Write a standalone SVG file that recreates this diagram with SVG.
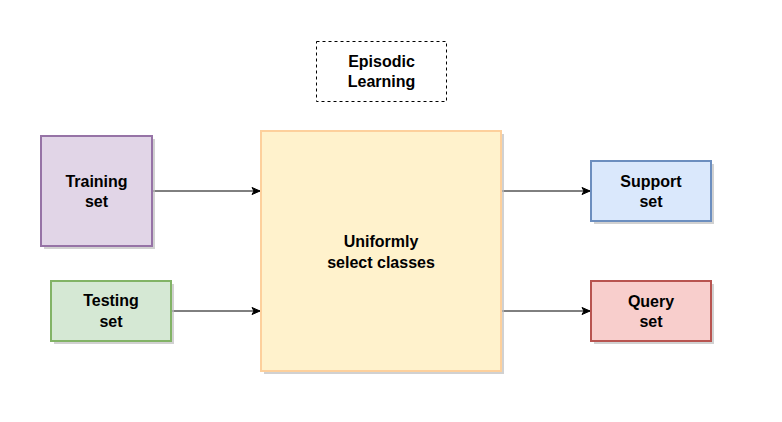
<svg xmlns="http://www.w3.org/2000/svg" width="782" height="422" viewBox="0 0 782 422">
<defs>
<style>
.t{font-family:"Liberation Sans",Arial,sans-serif;font-size:16px;font-weight:bold;fill:#000;text-anchor:middle}
.sh{fill:#bdbdbd;opacity:0.7}
.e{stroke:#000;stroke-width:1;fill:none}
</style>
<marker id="ah" markerWidth="10" markerHeight="10" refX="9" refY="5" orient="auto" markerUnits="userSpaceOnUse">
<path d="M1,1.5 L9,5 L1,8.5 L3,5 Z" fill="#000" stroke="#000" stroke-width="1"/>
</marker>
</defs>
<rect width="782" height="422" fill="#fff"/>
<g id="connectors">
<line class="e" x1="152" y1="191" x2="260" y2="191" marker-end="url(#ah)"/>
<line class="e" x1="171" y1="311" x2="260" y2="311" marker-end="url(#ah)"/>
<line class="e" x1="501" y1="191" x2="590" y2="191" marker-end="url(#ah)"/>
<line class="e" x1="501" y1="311" x2="590" y2="311" marker-end="url(#ah)"/>
</g>
<g id="episodic">
<rect x="316.5" y="41.5" width="130" height="60" fill="#fff" stroke="#000" stroke-dasharray="3,3"/>
<text class="t" x="381.5" y="67">Episodic</text>
<text class="t" x="381.5" y="87">Learning</text>
</g>
<g id="training">
<rect class="sh" x="44" y="139" width="111" height="110"/>
<rect x="41" y="136" width="111" height="110" fill="#e1d5e7" stroke="#9673a6" stroke-width="2"/>
<text class="t" x="96.5" y="187">Training</text>
<text class="t" x="96.5" y="207">set</text>
</g>
<g id="testing">
<rect class="sh" x="54" y="284" width="120" height="60"/>
<rect x="51" y="281" width="120" height="60" fill="#d5e8d4" stroke="#82b366" stroke-width="2"/>
<text class="t" x="111" y="306">Testing</text>
<text class="t" x="111" y="327">set</text>
</g>
<g id="uniform">
<rect class="sh" x="264" y="134" width="240" height="240"/>
<rect x="261" y="131" width="240" height="240" fill="#fff2cc" stroke="#fdd09c" stroke-width="2"/>
<text class="t" x="381" y="247">Uniformly</text>
<text class="t" x="381" y="268">select classes</text>
</g>
<g id="support">
<rect class="sh" x="594" y="164" width="120" height="60"/>
<rect x="591" y="161" width="120" height="60" fill="#dae8fc" stroke="#6c8ebf" stroke-width="2"/>
<text class="t" x="651" y="187">Support</text>
<text class="t" x="651" y="207">set</text>
</g>
<g id="query">
<rect class="sh" x="594" y="284" width="120" height="60"/>
<rect x="591" y="281" width="120" height="60" fill="#f8cecc" stroke="#b85450" stroke-width="2"/>
<text class="t" x="651" y="307">Query</text>
<text class="t" x="651" y="327">set</text>
</g>
</svg>
